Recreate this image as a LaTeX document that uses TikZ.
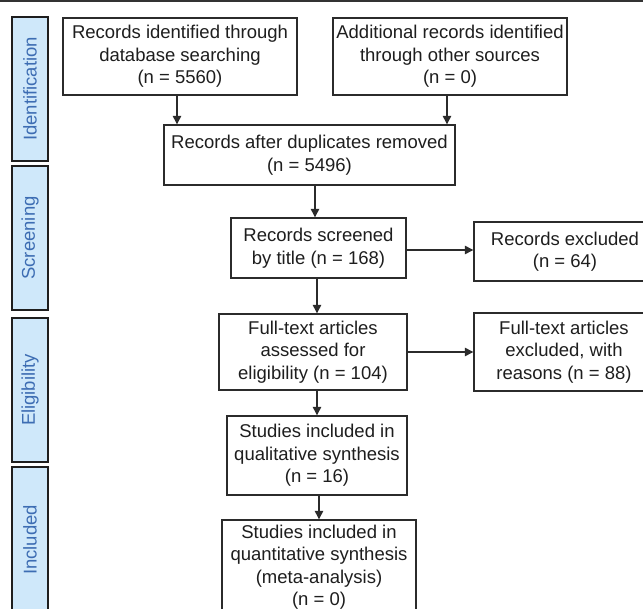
\documentclass[tikz,border=0pt]{standalone}
\usepackage{fontspec}
\setmainfont{Liberation Sans}
\usetikzlibrary{arrows.meta}
\definecolor{boxline}{HTML}{2B2B2B}
\definecolor{txt}{HTML}{1E1E1E}
\definecolor{bandfill}{HTML}{CFE8FA}
\definecolor{bandline}{HTML}{1E1E1E}
\definecolor{bandtxt}{HTML}{3D6DB3}
\definecolor{rulec}{HTML}{333333}
\begin{document}
\begin{tikzpicture}[x=1pt,y=-1pt,
  box/.style={draw=boxline, line width=1.4pt, fill=white, align=center, inner sep=0pt,
    font=\fontsize{18.5}{22.5}\selectfont, text=txt},
  band/.style={draw=bandline, line width=1.4pt, fill=bandfill, rotate=90,
    minimum width=144pt, minimum height=36pt, inner sep=0pt, text=bandtxt,
    font=\fontsize{18.5}{22.5}\selectfont},
  arr/.style={draw=boxline, line width=1.3pt, -{Triangle[length=8.5pt,width=8.5pt]}}]
\useasboundingbox (0,0) rectangle (643,609);
\clip (0,0) rectangle (643,609);
\draw[line width=2pt, draw=rulec] (0,1) -- (643,1);

% phase bands
\node[band] (idb) at (30,89) {Identification};
\node[band] (scb) at (30,238) {Screening};
\node[band] (elb) at (30,390) {Eligibility};
\node[band, minimum width=146pt] (inb) at (30,540) {Included};

% boxes
\node[box, minimum width=234pt, minimum height=77pt] (b1) at (180,56.5)
  {Records identified through\\database searching\\(n = 5560)};
\node[box, minimum width=234pt, minimum height=77pt] (b2) at (450,56.5)
  {Additional records identified\\through other sources\\(n = 0)};
\node[box, minimum width=291pt, minimum height=60pt] (b3) at (309.5,155)
  {Records after duplicates removed\\(n = 5496)};
\node[box, minimum width=175pt, minimum height=60pt] (b4) at (318.5,248)
  {Records screened\\by title (n = 168)};
\node[box, minimum width=182pt, minimum height=59pt] (b5) at (565,251.5)
  {Records excluded\\(n = 64)};
\node[box, minimum width=188pt, minimum height=76pt] (b6) at (313,352)
  {Full-text articles\\assessed for\\eligibility (n = 104)};
\node[box, minimum width=180pt, minimum height=78pt] (b7) at (564,352)
  {Full-text articles\\excluded, with\\reasons (n = 88)};
\node[box, minimum width=180pt, minimum height=79pt] (b8) at (317,455.5)
  {Studies included in\\qualitative synthesis\\(n = 16)};
\node[box, minimum width=194pt, minimum height=94pt] (b9) at (319,567)
  {Studies included in\\quantitative synthesis\\(meta-analysis)\\(n = 0)};

% connectors
\draw[arr] ([xshift=-3pt]b1.south) -- ([xshift=-3pt]b1.south |- b3.north);
\draw[arr] ([xshift=-3pt]b2.south) -- ([xshift=-3pt]b2.south |- b3.north);
\draw[arr] ([xshift=-3.5pt]b4.north |- b3.south) -- ([xshift=-3.5pt]b4.north);
\draw[arr] ([xshift=-1.5pt]b4.south) -- ([xshift=-1.5pt]b4.south |- b6.north);
\draw[arr] (b8.north |- b6.south) -- (b8.north);
\draw[arr] (b9.north |- b8.south) -- (b9.north);
\draw[arr] ([yshift=1.5pt]b5.west -| b4.east) -- ([yshift=1.5pt]b5.west);
\draw[arr] (b6.east) -- (b6.east -| b7.west);
\end{tikzpicture}
\end{document}
